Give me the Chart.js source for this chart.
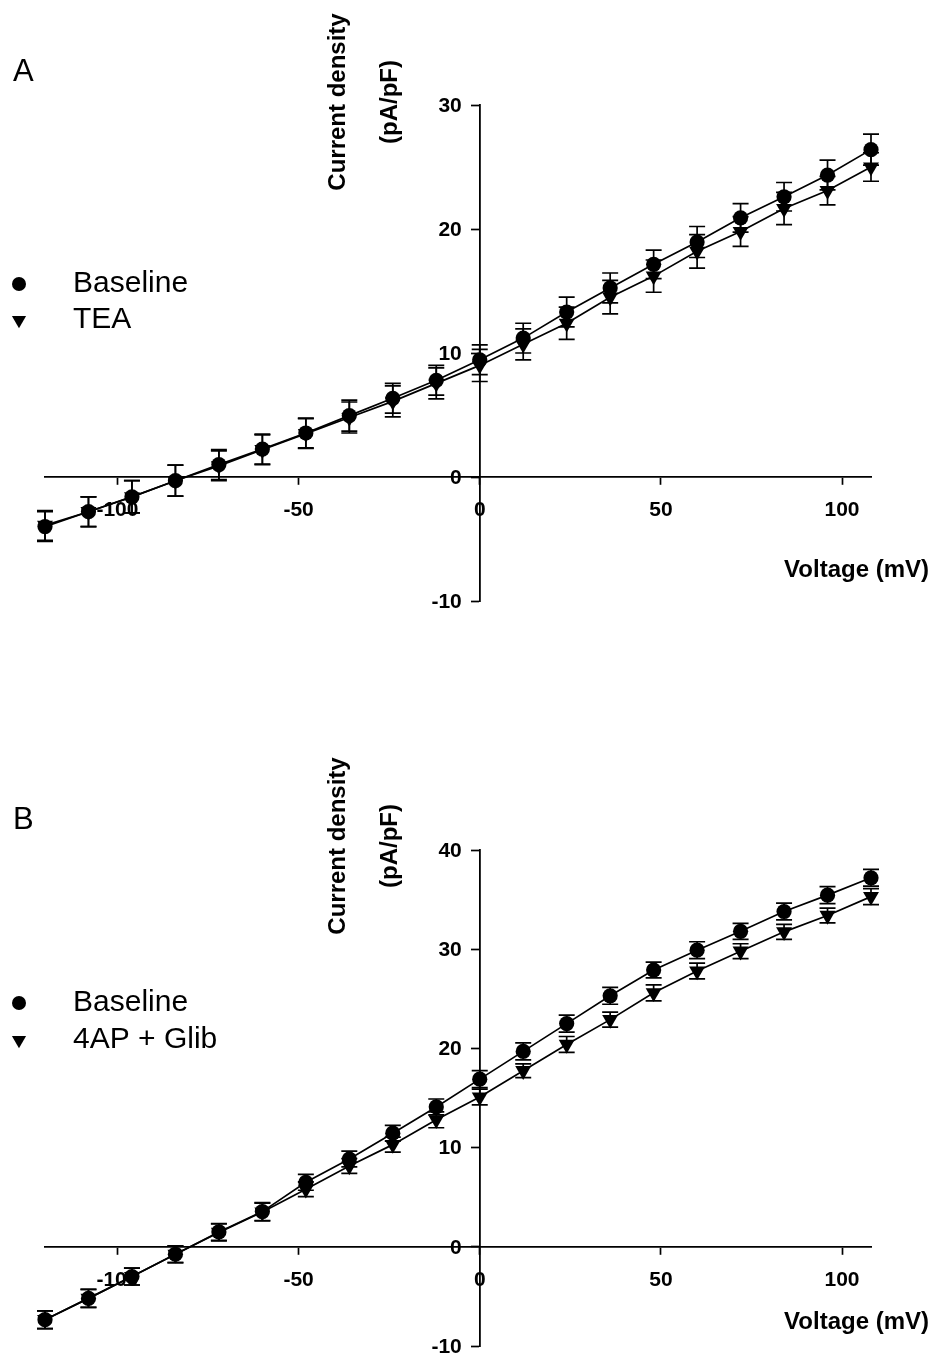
<!DOCTYPE html>
<html>
<head>
<meta charset="utf-8">
<script src="https://cdn.jsdelivr.net/npm/chart.js@4/dist/chart.umd.min.js"></script>
<style>
html, body { margin: 0; padding: 0; background: #fff; overflow: hidden; }
.panel { position: absolute; left: 0; width: 938px; }
canvas { display: block; }
</style>
</head>
<body>
<div class="panel" style="top:0"><canvas id="chartA" width="938" height="678"></canvas></div>
<div class="panel" style="top:660px"><canvas id="chartB" width="938" height="720"></canvas></div>
<script>
// voltage steps (mV)
const voltage = [-120, -108, -96, -84, -72, -60, -48, -36, -24, -12, 0, 12, 24, 36, 48, 60, 72, 84, 96, 108];
const xTicks = [-100, -50, 0, 50, 100];

// panel A: baseline vs TEA (pA/pF)
const baselineA = [-4.0, -2.8, -1.6, -0.3, 1.0, 2.25, 3.55, 4.95, 6.35, 7.8, 9.45, 11.2, 13.3, 15.25, 17.15, 18.95, 20.9, 22.6, 24.35, 26.4];
const baselineAErr = [1.2, 1.2, 1.3, 1.25, 1.2, 1.2, 1.2, 1.25, 1.2, 1.2, 1.2, 1.2, 1.2, 1.2, 1.15, 1.25, 1.15, 1.15, 1.2, 1.25];
const teaA = [-3.9, -2.8, -1.6, -0.3, 0.9, 2.2, 3.5, 4.8, 6.1, 7.55, 9.0, 10.7, 12.4, 14.5, 16.2, 18.2, 19.8, 21.65, 23.1, 25.0];
const teaAErr = [1.2, 1.2, 1.3, 1.25, 1.2, 1.2, 1.2, 1.25, 1.25, 1.25, 1.3, 1.25, 1.3, 1.35, 1.3, 1.35, 1.2, 1.3, 1.15, 1.15];
const yTicksA = [-10, 0, 10, 20, 30];

// panel B: baseline vs 4AP + Glib (pA/pF)
const baselineB = [-7.35, -5.2, -3.0, -0.75, 1.5, 3.55, 6.5, 8.85, 11.45, 14.1, 16.9, 19.7, 22.5, 25.3, 27.9, 29.9, 31.8, 33.8, 35.45, 37.2];
const baselineBErr = [0.9, 0.9, 0.85, 0.85, 0.85, 0.9, 0.8, 0.8, 0.8, 0.8, 0.85, 0.85, 0.85, 0.85, 0.8, 0.85, 0.8, 0.85, 0.85, 0.85];
const apGlibB = [-7.35, -5.2, -3.0, -0.75, 1.45, 3.5, 5.8, 8.15, 10.3, 12.8, 15.1, 17.75, 20.4, 22.9, 25.6, 27.8, 29.8, 31.75, 33.4, 35.3];
const apGlibBErr = [0.9, 0.9, 0.85, 0.85, 0.85, 0.9, 0.75, 0.75, 0.75, 0.8, 0.8, 0.7, 0.8, 0.75, 0.8, 0.8, 0.75, 0.75, 0.75, 0.8];
const yTicksB = [-10, 0, 10, 20, 30, 40];

const FONT = '"Liberation Sans", Arial, Helvetica, sans-serif';
const TICK_FONT = 'bold 21px ' + FONT;

function toPoints(values) {
    return voltage.map((v, i) => ({ x: v, y: values[i] }));
}

function drawMarker(ctx, style, x, y) {
    ctx.beginPath();
    if (style === 'circle') {
        ctx.arc(x, y, 7, 0, Math.PI * 2);
    } else {
        let r = 8.2;
        ctx.moveTo(x, y + r);
        ctx.lineTo(x - r * 0.866, y - r * 0.5);
        ctx.lineTo(x + r * 0.866, y - r * 0.5);
        ctx.closePath();
    }
    ctx.fill();
}

const errorBars = {
    id: 'errorBars',
    beforeDatasetsDraw(chart) {
        let ctx = chart.ctx;
        let yScale = chart.scales.y;
        ctx.save();
        ctx.strokeStyle = '#000';
        ctx.lineWidth = 1.7;
        chart.data.datasets.forEach((ds, i) => {
            let meta = chart.getDatasetMeta(i);
            meta.data.forEach((pt, j) => {
                let v = ds.data[j].y;
                let e = ds.errors[j];
                let top = yScale.getPixelForValue(v + e);
                let bot = yScale.getPixelForValue(v - e);
                ctx.beginPath();
                ctx.moveTo(pt.x, top);
                ctx.lineTo(pt.x, bot);
                ctx.moveTo(pt.x - 8, top);
                ctx.lineTo(pt.x + 8, top);
                ctx.moveTo(pt.x - 8, bot);
                ctx.lineTo(pt.x + 8, bot);
                ctx.stroke();
            });
        });
        ctx.restore();
    }
};

// y tick labels sit left of the tick marks (Chart.js puts them on the axis line for a value-positioned axis)
const yLabels = {
    id: 'yLabels',
    afterDraw(chart) {
        let ctx = chart.ctx;
        let y = chart.scales.y;
        let x0 = chart.scales.x.getPixelForValue(0);
        ctx.save();
        ctx.fillStyle = '#000';
        ctx.font = TICK_FONT;
        ctx.textAlign = 'right';
        ctx.textBaseline = 'middle';
        y.ticks.forEach(t => {
            ctx.fillText(String(t.value), x0 - 18, y.getPixelForValue(t.value) + 1);
        });
        ctx.restore();
    }
};

const panelText = {
    id: 'panelText',
    afterDraw(chart, args, opts) {
        let ctx = chart.ctx;
        ctx.save();
        ctx.fillStyle = '#000';
        ctx.textBaseline = 'middle';

        // panel letter
        ctx.font = '31px ' + FONT;
        ctx.textAlign = 'left';
        ctx.fillText(opts.letter, 13, opts.letterY);

        // legend
        chart.data.datasets.forEach((ds, i) => {
            let y = opts.legendY[i];
            drawMarker(ctx, ds.marker, 19, y);
            ctx.font = '30px ' + FONT;
            ctx.fillText(ds.label, 73, y);
        });

        // axis titles
        ctx.font = 'bold 24px ' + FONT;
        ctx.textAlign = 'right';
        ctx.fillText('Voltage (mV)', 929, opts.xTitleY);

        ctx.textAlign = 'center';
        ctx.translate(338, opts.yTitleY);
        ctx.rotate(-Math.PI / 2);
        ctx.fillText('Current density', 0, 0);
        ctx.fillText('(pA/pF)', 0, 52);
        ctx.restore();
    }
};

function makeDataset(label, values, errors, marker) {
    return {
        label: label,
        data: toPoints(values),
        errors: errors,
        marker: marker,
        showLine: true,
        clip: false,
        borderColor: '#000',
        borderWidth: 1.7,
        backgroundColor: '#000',
        pointBackgroundColor: '#000',
        pointBorderWidth: 0,
        pointStyle: marker === 'circle' ? 'circle' : 'triangle',
        pointRotation: marker === 'circle' ? 0 : 180,
        pointRadius: marker === 'circle' ? 7.6 : 9.2,
        tension: 0
    };
}

function makeChart(id, datasets, yMin, yMax, yTicks, padding, text) {
    let ctx = document.getElementById(id).getContext('2d');
    return new Chart(ctx, {
        type: 'scatter',
        data: { datasets: datasets },
        options: {
            responsive: false,
            animation: false,
            devicePixelRatio: 1,
            layout: { padding: padding },
            scales: {
                x: {
                    type: 'linear',
                    position: { y: 0 },
                    min: -120,
                    max: 108,
                    afterBuildTicks: (scale) => { scale.ticks = xTicks.map(v => ({ value: v })); },
                    grid: { drawOnChartArea: false, tickLength: 7, tickWidth: 1.7, color: '#000' },
                    border: { display: true, color: '#000', width: 1.8 },
                    ticks: { color: '#000', padding: 14, maxRotation: 0, font: { family: FONT, size: 21, weight: 'bold' } }
                },
                y: {
                    type: 'linear',
                    position: { x: 0 },
                    min: yMin,
                    max: yMax,
                    afterBuildTicks: (scale) => { scale.ticks = yTicks.map(v => ({ value: v })); },
                    grid: { drawOnChartArea: false, tickLength: 8, tickWidth: 1.7, color: '#000' },
                    border: { display: true, color: '#000', width: 1.8 },
                    ticks: { display: false }
                }
            },
            plugins: {
                legend: { display: false },
                tooltip: { enabled: false },
                panelText: text
            }
        },
        plugins: [errorBars, yLabels, panelText]
    });
}

window.onload = function () {
    makeChart('chartA', [
        makeDataset('Baseline', baselineA, baselineAErr, 'circle'),
        makeDataset('TEA', teaA, teaAErr, 'triangle')
    ], -10, 30, yTicksA,
        { left: 45, right: 67, top: 105, bottom: 77 },
        { letter: 'A', letterY: 72, legendY: [284, 320], xTitleY: 570, yTitleY: 102 });

    makeChart('chartB', [
        makeDataset('Baseline', baselineB, baselineBErr, 'circle'),
        makeDataset('4AP + Glib', apGlibB, apGlibBErr, 'triangle')
    ], -10, 40, yTicksB,
        { left: 45, right: 67, top: 190, bottom: 34 },
        { letter: 'B', letterY: 160, legendY: [343, 380], xTitleY: 662, yTitleY: 186 });
};
</script>
</body>
</html>
